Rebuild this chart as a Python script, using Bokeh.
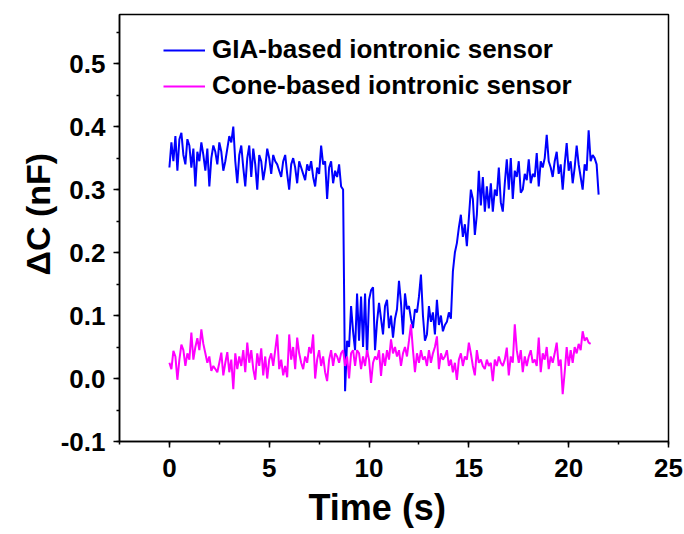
import numpy as np
from bokeh.plotting import figure
from bokeh.models import Range1d, SingleIntervalTicker, PrintfTickFormatter, Legend, LegendItem, Title
from bokeh.embed import file_html
from bokeh.resources import INLINE

# ---- data ----
gia_t_start, gia_t_step = 0.0, 0.1
gia_values = [
    0.335, 0.375, 0.345, 0.385, 0.330, 0.380, 0.390, 0.355, 0.340, 0.380,
    0.370, 0.335, 0.365, 0.305, 0.360, 0.345, 0.375, 0.355, 0.330, 0.365,
    0.305, 0.350, 0.370, 0.360, 0.340, 0.375, 0.360, 0.330, 0.345, 0.365,
    0.385, 0.375, 0.400, 0.345, 0.310, 0.355, 0.370, 0.335, 0.305, 0.350,
    0.370, 0.320, 0.365, 0.340, 0.300, 0.355, 0.345, 0.315, 0.335, 0.365,
    0.350, 0.325, 0.355, 0.345, 0.340, 0.330, 0.320, 0.345, 0.355, 0.325,
    0.300, 0.340, 0.350, 0.335, 0.310, 0.345, 0.335, 0.325, 0.315, 0.340,
    0.330, 0.345, 0.320, 0.305, 0.335, 0.325, 0.370, 0.340, 0.345, 0.285,
    0.335, 0.345, 0.310, 0.330, 0.320, 0.340, 0.305, 0.300, -0.020, 0.060,
    0.050, 0.115, 0.075, 0.045, 0.135, 0.060, 0.130, 0.050, 0.135, 0.035,
    0.125, 0.140, 0.145, 0.045, 0.090, 0.120, 0.095, 0.070, 0.115, 0.125,
    0.080, 0.100, 0.065, 0.095, 0.110, 0.155, 0.120, 0.070, 0.135, 0.110,
    0.115, 0.095, 0.080, 0.110, 0.105, 0.130, 0.165, 0.100, 0.060, 0.070,
    0.115, 0.090, 0.105, 0.070, 0.125, 0.085, 0.100, 0.075, 0.085, 0.090,
    0.105, 0.095, 0.170, 0.200, 0.215, 0.240, 0.260, 0.225, 0.245, 0.210,
    0.255, 0.300, 0.285, 0.228, 0.260, 0.330, 0.275, 0.320, 0.265, 0.305,
    0.270, 0.310, 0.265, 0.300, 0.290, 0.335, 0.280, 0.265, 0.310, 0.348,
    0.300, 0.350, 0.285, 0.330, 0.320, 0.345, 0.295, 0.300, 0.325, 0.315,
    0.348, 0.310, 0.325, 0.320, 0.358, 0.305, 0.345, 0.335, 0.350, 0.387,
    0.345, 0.335, 0.320, 0.345, 0.360, 0.325, 0.340, 0.300, 0.340, 0.374,
    0.330, 0.345, 0.310, 0.335, 0.370, 0.340, 0.320, 0.300, 0.340, 0.330,
    0.394, 0.345, 0.355, 0.350, 0.340, 0.292,
]

cone_t_start, cone_t_step = 0.0, 0.1
cone_values = [
    0.025, 0.015, 0.044, 0.035, -0.002, 0.030, 0.054, 0.045, 0.020, 0.040,
    0.030, 0.073, 0.030, 0.050, 0.064, 0.045, 0.078, 0.055, 0.040, 0.025,
    0.035, 0.012, 0.020, 0.015, 0.010, 0.025, 0.041, 0.005, 0.025, 0.042,
    0.010, 0.030, -0.017, 0.040, 0.015, 0.035, 0.020, 0.045, 0.010, 0.057,
    0.025, 0.045, 0.015, -0.002, 0.040, 0.020, 0.048, 0.005, 0.035, 0.000,
    0.030, 0.040, 0.020, 0.045, 0.070, 0.015, 0.030, 0.005, 0.020, 0.002,
    0.070, 0.030, 0.050, 0.015, 0.065, 0.040, 0.025, 0.015, 0.035, 0.025,
    0.050, 0.040, 0.070, 0.000, 0.030, 0.045, 0.020, 0.035, 0.010, -0.004,
    0.030, 0.045, 0.020, 0.040, 0.035, 0.025, 0.040, 0.045, 0.020, 0.035,
    0.000, 0.040, 0.045, 0.020, 0.045, 0.040, 0.015, 0.035, 0.020, 0.045,
    0.030, -0.007, 0.025, 0.035, 0.030, 0.045, 0.004, 0.040, 0.020, 0.045,
    0.030, 0.062, 0.040, 0.050, 0.035, 0.045, 0.020, 0.040, 0.050, 0.035,
    0.060, 0.086, 0.045, 0.010, 0.040, 0.025, 0.045, 0.030, 0.035, 0.020,
    0.045, 0.025, 0.040, 0.050, 0.067, 0.015, 0.040, 0.030, 0.035, 0.045,
    0.020, 0.030, 0.010, 0.025, -0.002, 0.030, 0.040, 0.020, 0.035, 0.030,
    0.057, 0.040, 0.020, 0.005, 0.045, 0.025, 0.030, 0.020, 0.015, 0.030,
    0.020, 0.025, -0.004, 0.030, 0.020, 0.035, 0.025, 0.020, 0.030, 0.049,
    0.005, 0.035, 0.025, 0.086, 0.045, 0.025, 0.045, 0.010, 0.035, 0.020,
    0.035, 0.045, 0.025, 0.030, 0.020, 0.065, 0.010, 0.040, 0.030, 0.050,
    0.015, 0.035, 0.025, 0.040, 0.057, 0.020, 0.030, -0.025, 0.010, 0.050,
    0.020, 0.045, 0.025, 0.050, 0.040, 0.055, 0.045, 0.075, 0.060, 0.065,
    0.057, 0.055,
]

series_labels = ["GIA-based iontronic sensor", "Cone-based iontronic sensor"]
x_label = "Time (s)"
y_label = "\u0394C (nF)"

gia_t = [round(gia_t_start + i * gia_t_step, 2) for i in range(len(gia_values))]
cone_t = [round(cone_t_start + i * cone_t_step, 2) for i in range(len(cone_values))]

FONT = "Liberation Sans"

p = figure(width=684, height=534, output_backend="svg", toolbar_location=None,
           x_range=Range1d(-2.5, 25), y_range=Range1d(-0.1, 0.578),
           min_border_left=119, min_border_right=16, min_border_top=14, min_border_bottom=93)
p.grid.visible = False
p.background_fill_color = "white"
p.border_fill_color = "white"
p.outline_line_color = "black"
p.outline_line_width = 1.5

r1 = p.line(gia_t, gia_values, line_color="#0000FF", line_width=2)
r2 = p.line(cone_t, cone_values, line_color="#FF00FF", line_width=2)

p.xaxis.ticker = SingleIntervalTicker(interval=5, num_minor_ticks=2)
p.yaxis.ticker = SingleIntervalTicker(interval=0.1, num_minor_ticks=2)
p.yaxis.formatter = PrintfTickFormatter(format="%.1f")

for ax in (p.xaxis[0], p.yaxis[0]):
    ax.axis_line_width = 1.5
    ax.major_tick_line_width = 1.5
    ax.minor_tick_line_width = 1.5
    ax.major_tick_out = 6
    ax.major_tick_in = 0
    ax.minor_tick_out = 3
    ax.minor_tick_in = 0
    ax.major_label_text_font = FONT
    ax.major_label_text_font_style = "bold"
    ax.major_label_text_font_size = "26px"
    ax.major_label_text_color = "black"

p.xaxis.major_label_standoff = 11
p.yaxis.major_label_standoff = 8

# axis titles as Title panels so they can be nudged along the axis
xt = Title(text=x_label, align="left", offset=189, standoff=10,
           text_font=FONT, text_font_style="bold", text_font_size="36px", text_color="black")
p.add_layout(xt, "below")
yt = Title(text=y_label, align="left", offset=166, standoff=2,
           text_font=FONT, text_font_style="bold", text_font_size="34px", text_color="black")
p.add_layout(yt, "left")

legend = Legend(items=[LegendItem(label=series_labels[0], renderers=[r1]),
                       LegendItem(label=series_labels[1], renderers=[r2])],
                location=(44, 340))
legend.border_line_color = None
legend.background_fill_alpha = 0
legend.padding = 0
legend.margin = 0
legend.spacing = 5
legend.glyph_width = 42
legend.glyph_height = 28
legend.label_height = 28
legend.label_standoff = 7
legend.label_text_font = FONT
legend.label_text_font_style = "bold"
legend.label_text_font_size = "26px"
legend.label_text_color = "black"
p.add_layout(legend)

open("out.html", "w").write(file_html(p, INLINE))
